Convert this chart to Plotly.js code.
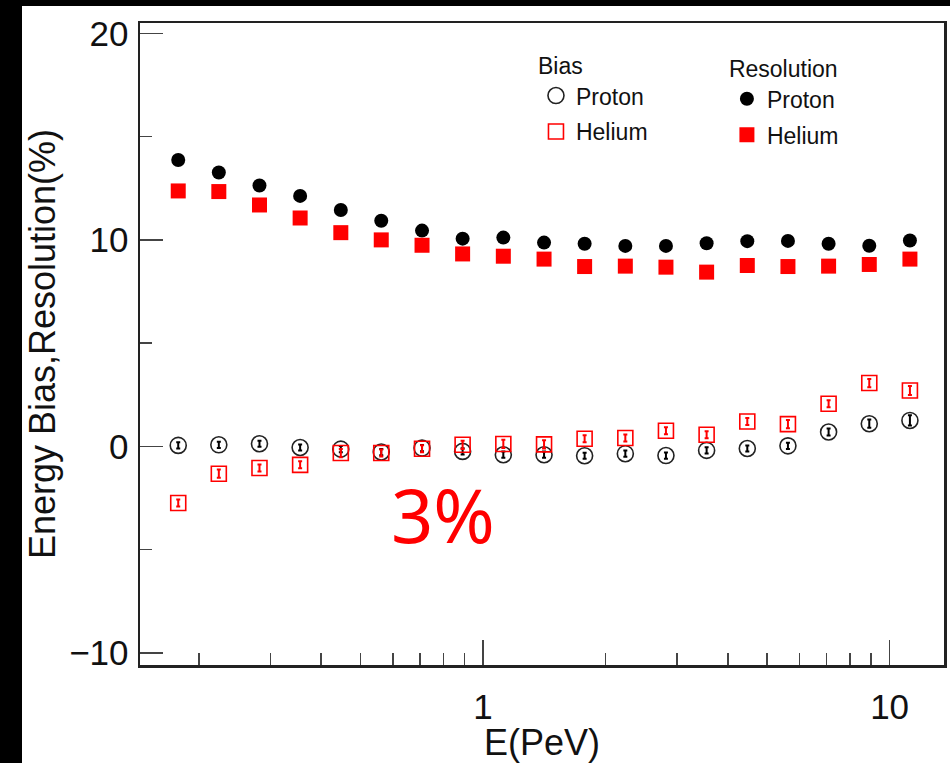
<!DOCTYPE html>
<html>
<head>
<meta charset="utf-8">
<script src="https://cdn.plot.ly/plotly-3.0.1.min.js"></script>
<style>
  html, body { margin: 0; padding: 0; background: #000; width: 950px; height: 763px; overflow: hidden; }
  #chart { position: absolute; left: 22px; top: 6px; width: 928px; height: 757px; background: #fff; }
</style>
</head>
<body>
<div id="chart"></div>
<script>
// Energy bin centres (PeV)
const energy = [0.178, 0.224, 0.282, 0.355, 0.447, 0.562, 0.708, 0.891, 1.122, 1.413,
                1.778, 2.239, 2.818, 3.548, 4.467, 5.623, 7.079, 8.913, 11.22];

// Resolution (%)
const resProton = [13.87, 13.26, 12.63, 12.13, 11.45, 10.93, 10.45, 10.06, 10.11, 9.87,
                   9.81, 9.71, 9.71, 9.84, 9.94, 9.95, 9.81, 9.72, 9.97];
const resHelium = [12.37, 12.34, 11.69, 11.06, 10.35, 10.00, 9.74, 9.32, 9.21, 9.07,
                   8.71, 8.73, 8.68, 8.44, 8.76, 8.71, 8.73, 8.81, 9.07];

// Bias (%)
const biasProton = [0.05, 0.08, 0.13, -0.05, -0.13, -0.27, -0.08, -0.24, -0.40, -0.40,
                    -0.45, -0.35, -0.44, -0.19, -0.10, 0.03, 0.70, 1.10, 1.26];
const biasHelium = [-2.74, -1.32, -1.04, -0.89, -0.32, -0.32, -0.11, 0.08, 0.12, 0.10,
                    0.37, 0.41, 0.76, 0.57, 1.21, 1.08, 2.07, 3.07, 2.71];

// Bias uncertainties (%)
const biasProtonErr = [0.15, 0.15, 0.15, 0.15, 0.15, 0.15, 0.15, 0.15, 0.15, 0.15,
                       0.15, 0.15, 0.15, 0.15, 0.15, 0.15, 0.17, 0.2, 0.25];
const biasHeliumErr = [0.17, 0.2, 0.17, 0.17, 0.2, 0.17, 0.17, 0.2, 0.2, 0.2,
                       0.17, 0.17, 0.17, 0.17, 0.17, 0.2, 0.17, 0.2, 0.22];

const xTickVals = [1, 10];
const xTickText = ['1', '10'];
const xMinorVals = [0.2, 0.3, 0.4, 0.5, 0.6, 0.7, 0.8, 0.9, 2, 3, 4, 5, 6, 7, 8, 9];
const yTickVals = [-10, 0, 10, 20];
const yTickText = ['\u221210', '0', '10', '20'];
const yMinorVals = [-5, 5, 15];

const legendTitle1 = 'Bias';
const legendTitle2 = 'Resolution';
const annotText = '3%';

const FONT = 'Liberation Sans, Arial, Helvetica, sans-serif';
const RED = '#ff0000';

const traces = [
  {
    x: energy, y: biasProton, name: 'Proton', type: 'scatter', mode: 'markers',
    legend: 'legend', legendgroup: 'bp',
    marker: { symbol: 'circle-open', size: 16, color: '#222', line: { width: 1.6, color: '#222' } },
    error_y: { type: 'data', array: biasProtonErr, visible: true, color: '#000', thickness: 2, width: 2 }
  },
  {
    x: energy, y: biasHelium, name: 'Helium', type: 'scatter', mode: 'markers',
    legend: 'legend', legendgroup: 'bh',
    marker: { symbol: 'square-open', size: 15, color: RED, line: { width: 1.6, color: RED } },
    error_y: { type: 'data', array: biasHeliumErr, visible: true, color: RED, thickness: 2, width: 2 }
  },
  {
    x: energy, y: resProton, name: 'Proton', type: 'scatter', mode: 'markers',
    legend: 'legend2', legendgroup: 'rp',
    marker: { symbol: 'circle', size: 14, color: '#000' }
  },
  {
    x: energy, y: resHelium, name: 'Helium', type: 'scatter', mode: 'markers',
    legend: 'legend2', legendgroup: 'rh',
    marker: { symbol: 'square', size: 15, color: RED }
  }
];

const legendCommon = {
  bgcolor: 'rgba(0,0,0,0)', borderwidth: 0,
  font: { family: FONT, size: 23, color: '#111' },
  traceorder: 'grouped', tracegroupgap: 3,
  xanchor: 'left', yanchor: 'top', orientation: 'v'
};

const layout = {
  width: 928, height: 757,
  paper_bgcolor: '#fff', plot_bgcolor: '#fff',
  margin: { l: 118, r: 6, t: 17, b: 98 },
  font: { family: FONT, color: '#111' },
  showlegend: true,
  xaxis: {
    type: 'log', range: [-0.8436, 1.1338],
    tickmode: 'array', tickvals: xTickVals, ticktext: xTickText,
    ticks: 'inside', ticklen: 25, tickwidth: 1.5, tickcolor: '#444',
    ticklabelstandoff: 9,
    tickfont: { family: FONT, size: 35, color: '#111' },
    minor: { tickmode: 'array', tickvals: xMinorVals, ticks: 'inside', ticklen: 12, tickwidth: 1.5, tickcolor: '#444' },
    showline: true, linecolor: '#222', linewidth: 2.5, mirror: true,
    showgrid: false, zeroline: false,
    title: { text: 'E(PeV)', font: { family: FONT, size: 36, color: '#111' }, standoff: 0 }
  },
  yaxis: {
    range: [-10.58, 20.5],
    tickmode: 'array', tickvals: yTickVals, ticktext: yTickText,
    ticks: 'inside', ticklen: 23, tickwidth: 1.5, tickcolor: '#444',
    ticklabelstandoff: 2,
    tickfont: { family: FONT, size: 35, color: '#111' },
    minor: { tickmode: 'array', tickvals: yMinorVals, ticks: 'inside', ticklen: 12, tickwidth: 1.5, tickcolor: '#444' },
    showline: true, linecolor: '#222', linewidth: 2.5, mirror: true,
    showgrid: false, zeroline: false,
    title: { text: 'Energy Bias,Resolution(%)', font: { family: FONT, size: 36, color: '#111' }, standoff: 12 }
  },
  legend: Object.assign({}, legendCommon, {
    x: 0.4925, y: 0.967,
    title: { text: legendTitle1, font: { family: FONT, size: 23, color: '#111' } }
  }),
  legend2: Object.assign({}, legendCommon, {
    x: 0.730, y: 0.962,
    title: { text: legendTitle2, font: { family: FONT, size: 23, color: '#111' } }
  }),
  annotations: [
    {
      xref: 'paper', yref: 'paper', x: 0.377, y: 0.234, xanchor: 'center', yanchor: 'middle',
      text: annotText, showarrow: false,
      font: { family: 'Noto Sans, DejaVu Sans, sans-serif', size: 74, color: RED }
    }
  ]
};

Plotly.newPlot('chart', traces, layout, { displayModeBar: false, staticPlot: true });
</script>
</body>
</html>
